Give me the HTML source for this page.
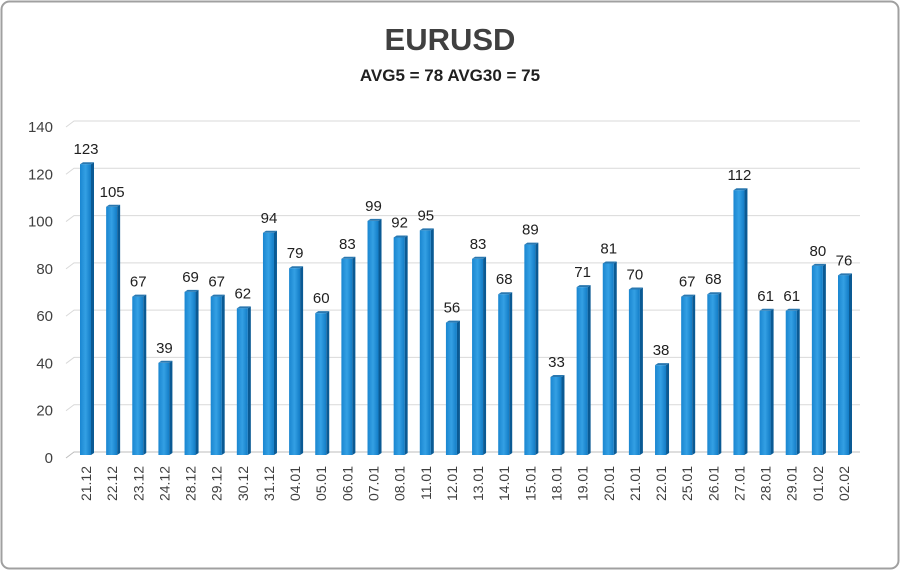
<!DOCTYPE html>
<html><head><meta charset="utf-8"><style>
body{margin:0;background:#fff;}
svg{display:block;font-family:"Liberation Sans",sans-serif;}
</style></head><body>
<svg id="chart" width="900" height="570">
<defs>
<linearGradient id="front" x1="0" x2="1" y1="0" y2="0"><stop offset="0" stop-color="#1a86d0"/><stop offset="0.5" stop-color="#34a0e4"/><stop offset="1" stop-color="#127cc6"/></linearGradient>
</defs>
<rect x="1.5" y="1.5" width="897" height="567" rx="8" fill="#fff" stroke="#a0a0a0" stroke-width="2"/>
<text x="450" y="50" text-anchor="middle" font-size="31" font-weight="bold" fill="#404040">EURUSD</text>
<text x="450" y="81" text-anchor="middle" font-size="17" font-weight="bold" fill="#202020">AVG5 = 78 AVG30 = 75</text>
<g id="grid"></g><g id="bars"></g><g id="labels"></g>
</svg>
<script>
const categories=["21.12","22.12","23.12","24.12","28.12","29.12","30.12","31.12","04.01","05.01","06.01","07.01","08.01","11.01","12.01","13.01","14.01","15.01","18.01","19.01","20.01","21.01","22.01","25.01","26.01","27.01","28.01","29.01","01.02","02.02"];
const values=[123,105,67,39,69,67,62,94,79,60,83,99,92,95,56,83,68,89,33,71,81,70,38,67,68,112,61,61,80,76];
const yTicks=[0,20,40,60,80,100,120,140];
const NS="http://www.w3.org/2000/svg";
const y0=455,pxPer=(455-124)/140;
function y(v){return y0-v*pxPer;}
function xc(i){return 86+i*(844-86)/(categories.length-1);}
function mk(t,a,p){const e=document.createElementNS(NS,t);for(const k in a)e.setAttribute(k,a[k]);p.appendChild(e);return e;}
const g=document.getElementById('grid'),b=document.getElementById('bars'),l=document.getElementById('labels');
yTicks.forEach(t=>{
 const ln=mk('polyline',{points:`66,${y(t)+3} 74,${y(t)-3} 860,${y(t)-3}`,fill:'none',stroke:t===0?'#bdbdbd':'#d9d9d9','stroke-width':1},g);
 
 
 const tx=mk('text',{x:53,y:y(t)+8,'text-anchor':'end','font-size':15,fill:'#404040'},l);
 tx.textContent=t;
 
 
});
categories.forEach((c,i)=>{
 const cx=xc(i),top=y(values[i]);
 const side=mk('polygon',{points:`${cx+5},${top} ${cx+8},${top-2} ${cx+8},${y0-2} ${cx+5},${y0}`,fill:'#0a5a94'},b);
 
 
 const topf=mk('polygon',{points:`${cx-6},${top} ${cx-3},${top-2} ${cx+8},${top-2} ${cx+5},${top}`,fill:'#2a78b0'},b);
 
 
 const r=mk('rect',{x:cx-6,y:top,width:11,height:y0-top,fill:'url(#front)'},b);
 
 
 const v=mk('text',{x:cx,y:top-10,'text-anchor':'middle','font-size':15,fill:'#202020'},l);
 v.textContent=values[i];
 
 
 const xl=mk('text',{x:0,y:0,'text-anchor':'end','font-size':14,fill:'#404040',transform:`translate(${cx+5},466) rotate(-90)`},l);
 xl.textContent=c;
 
 
});
</script>
</body></html>
